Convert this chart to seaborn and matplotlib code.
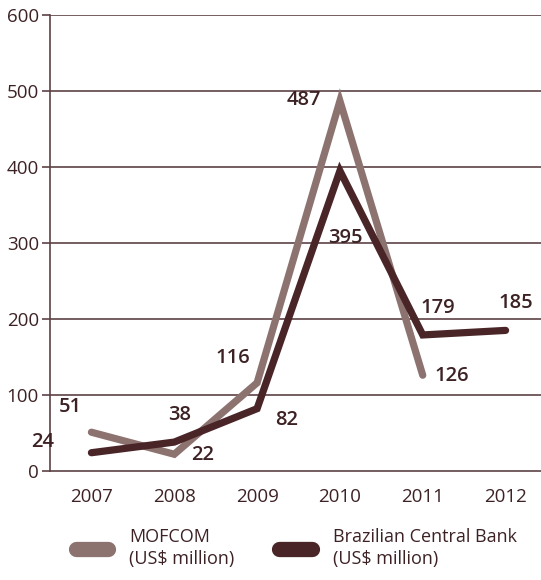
import matplotlib.pyplot as plt
import numpy as np
import pandas as pd
import seaborn as sns
from matplotlib.lines import Line2D

years = ["2007", "2008", "2009", "2010", "2011", "2012"]
mofcom = [51, 22, 116, 487, 126, np.nan]
bcb = [24, 38, 82, 395, 179, 185]

# label offsets in pixels (x, y) for each point
mofcom_offsets = [(-21, 25), (28, -1), (-24, 25), (-36, 1), (29, -1), None]
bcb_offsets = [(-49, 11), (5, 27), (30, -11), (5, -67), (15, 27), (10, 27)]

TEXT = "#3d2225"
C_MOF = "#8c7370"
C_BCB = "#4a2528"

sns.set_style("white")
plt.rcParams['font.family'] = ['Open Sans', 'Noto Sans', 'DejaVu Sans']

df = pd.DataFrame({
    "pos": list(range(len(years))) * 2,
    "value": mofcom + bcb,
    "series": ["MOFCOM"] * len(years) + ["BCB"] * len(years),
})

fig = plt.figure(figsize=(5.41, 5.80), dpi=100)
ax = fig.add_axes([50 / 541, 0.188, 497 / 541, 0.786])

for y in [100, 200, 300, 400, 500, 600]:
    ax.axhline(y, color="#5e4245", lw=1.2, zorder=0)

sns.lineplot(data=df, x="pos", y="value", hue="series",
             palette={"MOFCOM": C_MOF, "BCB": C_BCB},
             hue_order=["MOFCOM", "BCB"], linewidth=5.2,
             legend=False, ax=ax, solid_capstyle="round",
             solid_joinstyle="miter")

for vals, offs in [(mofcom, mofcom_offsets), (bcb, bcb_offsets)]:
    for i, (v, o) in enumerate(zip(vals, offs)):
        if o is None or np.isnan(v):
            continue
        ax.annotate(str(int(v)), (i, v), xytext=o, textcoords="offset pixels",
                    ha="center", va="center", fontsize=14.5,
                    fontweight="semibold", color=TEXT)

ax.set_xlim(-0.5, len(years) - 0.5)
ax.set_ylim(0, 600)
ax.set_xticks(range(len(years)))
ax.set_xticklabels(years)
ax.set_xticks(np.arange(-0.5, len(years), 1.0), minor=True)
ax.tick_params(axis="x", which="major", length=0, pad=12, labelsize=13.5, labelcolor=TEXT)
ax.tick_params(axis="x", which="minor", length=6, width=1.2, color="#5e4245", direction="out")
ax.set_yticks([0, 100, 200, 300, 400, 500, 600])
ax.tick_params(axis="y", length=6, width=1.2, color="#5e4245", pad=2, labelsize=13.5,
               labelcolor=TEXT, left=True)
ax.set_xlabel("")
ax.set_ylabel("")
for s in ["top", "right"]:
    ax.spines[s].set_visible(False)
for s in ["left", "bottom"]:
    ax.spines[s].set_color("#5e4245")
    ax.spines[s].set_linewidth(1.2)

handles = [Line2D([], [], color=C_MOF, lw=11, solid_capstyle="round"),
           Line2D([], [], color=C_BCB, lw=11, solid_capstyle="round")]
labels = ["MOFCOM\n(US$ million)", "Brazilian Central Bank\n(US$ million)"]
leg = fig.legend(handles, labels, loc="center left", bbox_to_anchor=(0.11, 0.055),
                 ncol=2, frameon=False, fontsize=13, labelcolor=TEXT,
                 handlelength=1.8, handletextpad=1.15, columnspacing=2.5)
for t in leg.get_texts():
    t.set_linespacing(1.25)

fig.savefig("out.png", dpi=100)
